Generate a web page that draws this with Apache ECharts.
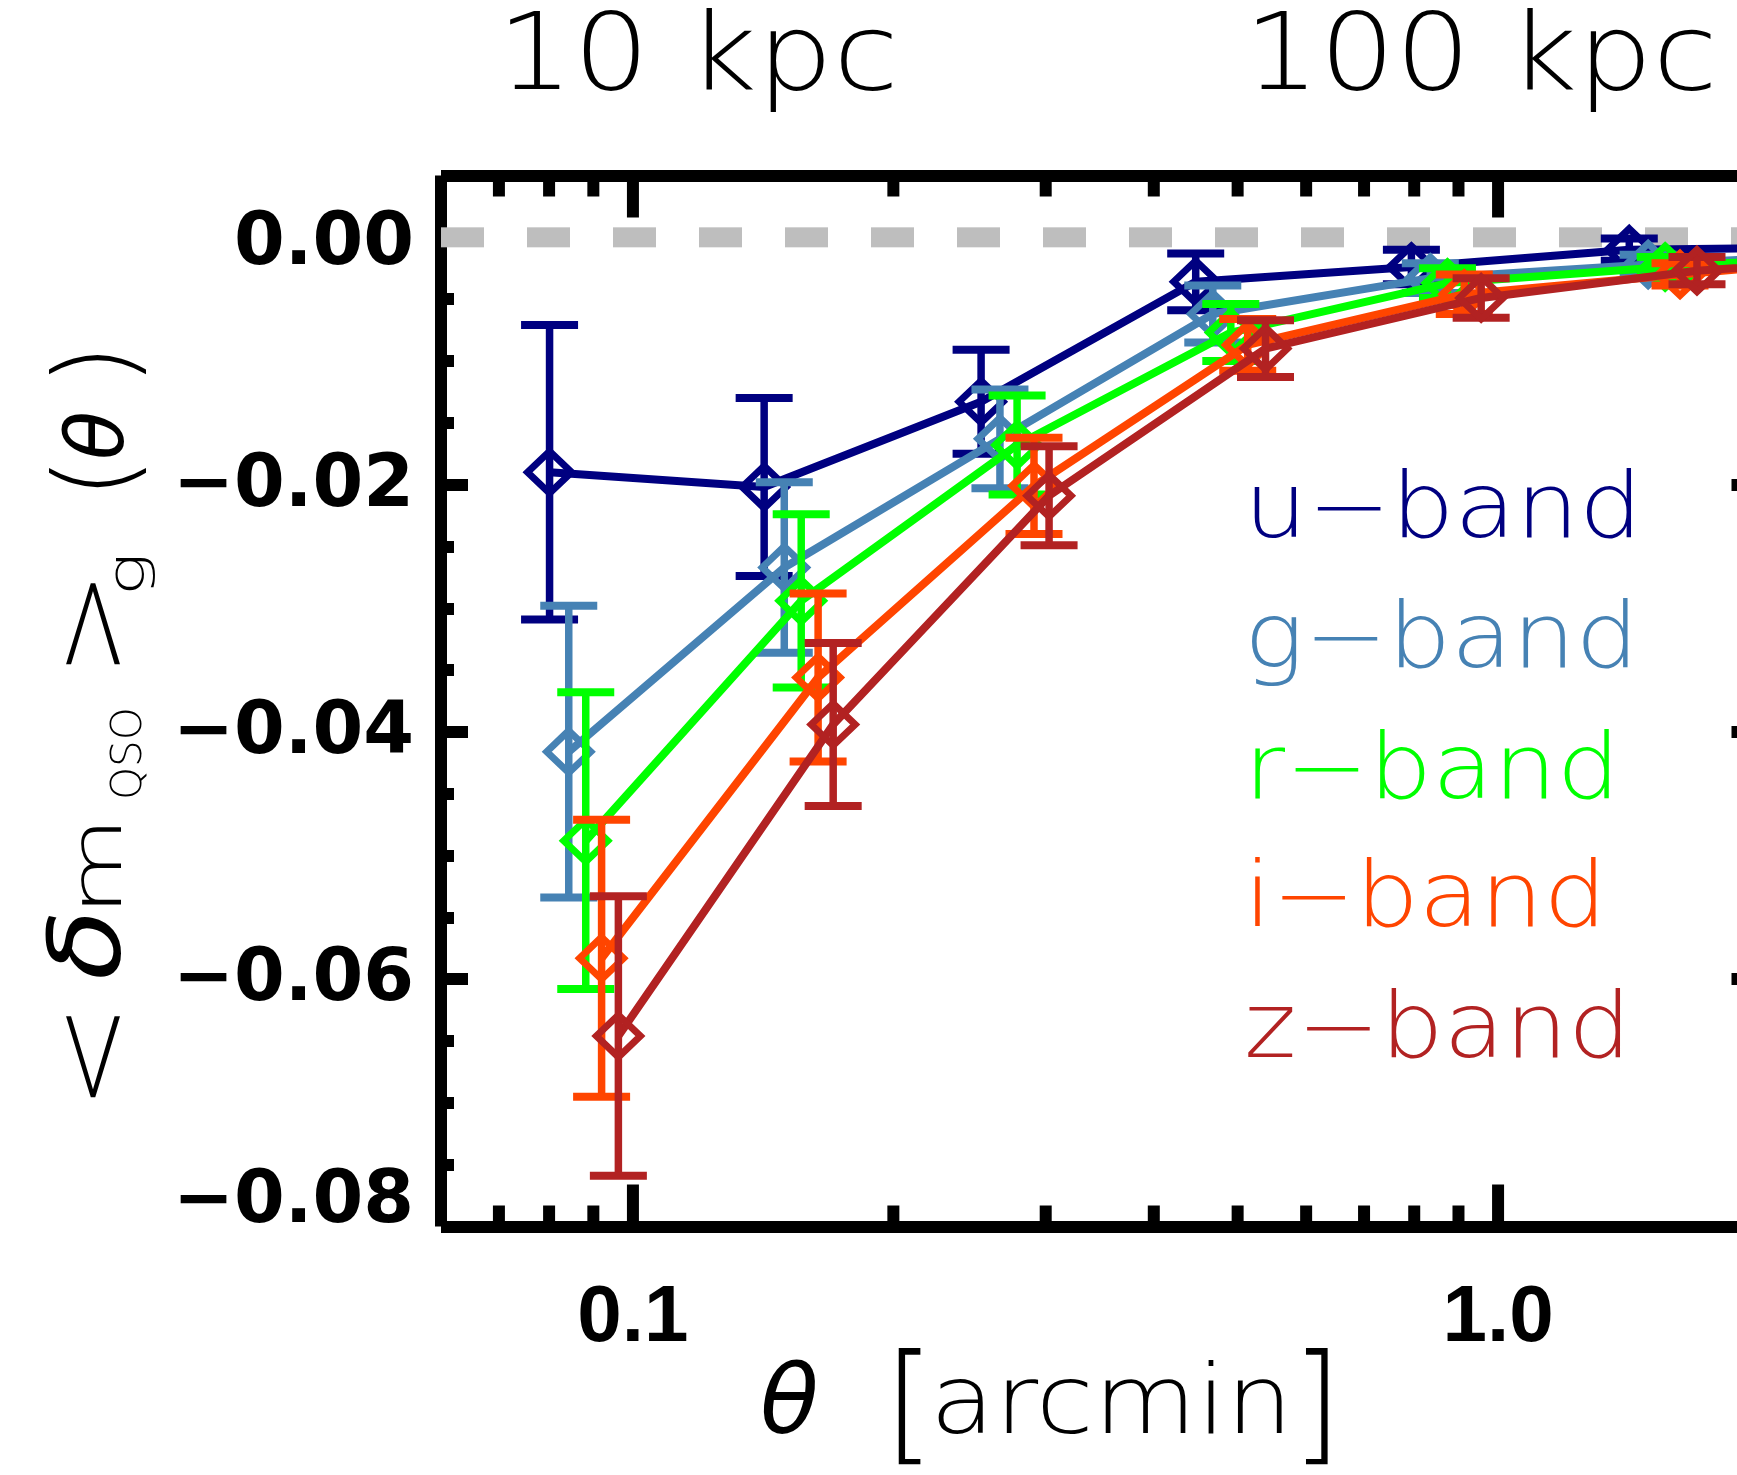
<!DOCTYPE html>
<html>
<head>
<meta charset="utf-8">
<script src="https://cdn.jsdelivr.net/npm/echarts@6/dist/echarts.min.js"></script>
<style>
  html, body { margin: 0; padding: 0; background: #ffffff; }
  #chart { width: 1737px; height: 1475px; }
</style>
</head>
<body>
<div id="chart"></div>
<script>
// Mean QSO magnitude shift vs. angular separation, one curve per SDSS band.
const bandLabels = ['u\u2212band', 'g\u2212band', 'r\u2212band', 'i\u2212band', 'z\u2212band'];
const bandColors = ['#000080', '#4682b4', '#00ff00', '#ff4500', '#b22222'];

// theta [arcmin] (bands slightly offset in theta for readability)
const thetaU = [0.0801, 0.1418, 0.2526, 0.4472, 0.794, 1.418, 2.51];
const thetaG = [0.0843, 0.1496, 0.2656, 0.468, 0.835, 1.491, 2.63];
const thetaR = [0.0882, 0.1565, 0.2780, 0.491, 0.874, 1.560, 2.75];
const thetaI = [0.0920, 0.1637, 0.2908, 0.5136, 0.914, 1.623, 2.88];
const thetaZ = [0.0962, 0.1704, 0.3027, 0.5385, 0.956, 1.698, 3.02];

// <delta m_QSO>_g
const dmU = [-0.0190, -0.0202, -0.0133, -0.0036, -0.0024, -0.0010, -0.0008];
const dmG = [-0.0416, -0.0267, -0.0163, -0.0062, -0.0033, -0.0022, -0.0013];
const dmR = [-0.0488, -0.0294, -0.0168, -0.0077, -0.0037, -0.0024, -0.0013];
const dmI = [-0.0583, -0.0356, -0.0201, -0.0087, -0.0046, -0.0030, -0.0015];
const dmZ = [-0.0646, -0.0394, -0.0209, -0.0090, -0.0049, -0.0027, -0.0015];

// 1-sigma errors
const errU = [0.0119, 0.0072, 0.0042, 0.0023, 0.0014, 0.0009, 0.0007];
const errG = [0.0118, 0.0069, 0.0040, 0.0023, 0.0012, 0.0008, 0.0007];
const errR = [0.0120, 0.0070, 0.0040, 0.0023, 0.0012, 0.0008, 0.0007];
const errI = [0.0112, 0.0068, 0.0039, 0.0021, 0.0016, 0.0009, 0.0008];
const errZ = [0.0113, 0.0066, 0.0040, 0.0023, 0.0016, 0.0011, 0.0008];

// axes
const xRange = [0.06, 2.0];
const yRange = [-0.08, 0.005];
const yStep = 0.02;
const xMajorTicks = [0.1, 1.0];
const xMajorLabels = ['0.1', '1.0'];
const xMinorTicks = [0.07, 0.08, 0.09, 0.2, 0.3, 0.4, 0.5, 0.6, 0.7, 0.8, 0.9];
const zeroLevel = 0;

const bands = [
  { theta: thetaU, dm: dmU, err: errU },
  { theta: thetaG, dm: dmG, err: errG },
  { theta: thetaR, dm: dmR, err: errR },
  { theta: thetaI, dm: dmI, err: errI },
  { theta: thetaZ, dm: dmZ, err: errZ }
];

const THIN = '"DejaVu Sans", "Noto Sans", sans-serif';
const BOLD_Y = '"DejaVu Sans", sans-serif';
const FRAME_W = 12;

const chart = echarts.init(document.getElementById('chart'), null, { renderer: 'canvas' });

function xLabel(v) {
  for (let k = 0; k < xMajorTicks.length; k++) {
    if (Math.abs(v - xMajorTicks[k]) < 1e-9 * xMajorTicks[k] + 1e-12) return xMajorLabels[k];
  }
  return '';
}
function yLabel(v) {
  if (v > 1e-9) return '';
  const s = (v < -1e-9 ? '\u2212' : '') + Math.abs(v).toFixed(2);
  if (Math.abs(v - yRange[0]) < 1e-9) return '{lo|' + s + '}';
  if (Math.abs(v) < 1e-9) return '{hi|' + s + '}';
  return '{n|' + s + '}';
}

const frameLine = { show: true, onZero: false, lineStyle: { color: '#000', width: FRAME_W, cap: 'butt' } };

function logAxis(position, showLabels) {
  return {
    type: 'log', logBase: 10, position: position,
    min: xRange[0], max: xRange[1],
    axisLine: frameLine,
    axisTick: { show: false },
    minorTick: { show: false },
    splitLine: { show: false },
    axisLabel: showLabels ? {
      show: true, formatter: xLabel, margin: 52,
      fontFamily: '"Liberation Sans", Arimo, sans-serif', fontWeight: 'bold',
      fontSize: 80, color: '#000'
    } : { show: false }
  };
}
const yFont = { fontFamily: BOLD_Y, fontWeight: 'bold', fontSize: 73, color: '#000' };
function valAxis(position, showLabels) {
  return {
    type: 'value', position: position,
    min: yRange[0], max: yRange[1], interval: yStep,
    axisLine: frameLine,
    axisTick: { show: true, inside: true, length: 27, lineStyle: { color: '#000', width: FRAME_W } },
    minorTick: { show: true, splitNumber: 4, length: 13, lineStyle: { color: '#000', width: FRAME_W } },
    splitLine: { show: false },
    minorSplitLine: { show: false },
    axisLabel: showLabels ? Object.assign({
      show: true, formatter: yLabel, margin: 27,
      rich: {
        n: Object.assign({ padding: [4, 0, 0, 0] }, yFont),
        hi: Object.assign({ padding: [16, 0, 0, 0] }, yFont),
        lo: Object.assign({ padding: [0, 0, 46, 0] }, yFont)
      }
    }, yFont) : { show: false }
  };
}

// x-axis ticks (major + minor) on bottom and top edges, placed through the log scale
function renderXTick(params, api) {
  const x = api.coord([api.value(0), yRange[0]])[0];
  const cs = params.coordSys;
  const len = api.value(2) ? 42 : 21;
  const st = { stroke: '#000', lineWidth: FRAME_W, lineCap: 'butt' };
  return {
    type: 'group',
    children: [
      { type: 'line', shape: { x1: x, y1: cs.y + cs.height, x2: x, y2: cs.y + cs.height - len }, style: st },
      { type: 'line', shape: { x1: x, y1: cs.y, x2: x, y2: cs.y + len }, style: st }
    ]
  };
}

// error bar with caps plus open diamond at each point
function makeErrRender(color) {
  return function (params, api) {
    const tx = api.value(0), v = api.value(1), e = api.value(2);
    const c = api.coord([tx, v]);
    const top = api.coord([tx, v + e]);
    const bot = api.coord([tx, v - e]);
    const hw = 28.5, rx = 22, ry = 21;
    const st = { stroke: color, lineWidth: 7.5, fill: null, lineCap: 'butt' };
    const capSt = { stroke: color, lineWidth: 8, fill: null, lineCap: 'butt' };
    return {
      type: 'group',
      children: [
        { type: 'line', shape: { x1: c[0], y1: top[1], x2: c[0], y2: bot[1] }, style: st },
        { type: 'line', shape: { x1: c[0] - hw, y1: top[1], x2: c[0] + hw, y2: top[1] }, style: capSt },
        { type: 'line', shape: { x1: c[0] - hw, y1: bot[1], x2: c[0] + hw, y2: bot[1] }, style: capSt },
        { type: 'polygon', shape: { points: [[c[0], c[1] - ry], [c[0] + rx, c[1]], [c[0], c[1] + ry], [c[0] - rx, c[1]]] },
          style: { stroke: color, lineWidth: 7, fill: null, lineJoin: 'miter' } }
      ]
    };
  };
}

const series = [];

// dashed reference line at zero
series.push({
  type: 'line', xAxisIndex: 0, yAxisIndex: 0,
  data: [[xRange[0], zeroLevel], [xRange[1], zeroLevel]],
  showSymbol: false, silent: true, z: 2,
  lineStyle: { color: '#bebebe', width: 20, type: [43, 43], cap: 'butt' }
});

// axis ticks
series.push({
  type: 'custom', xAxisIndex: 0, yAxisIndex: 0, silent: true, z: 3, clip: false,
  renderItem: renderXTick,
  data: xMajorTicks.map(v => [v, yRange[0], 1]).concat(xMinorTicks.map(v => [v, yRange[0], 0]))
});

bands.forEach((b, k) => {
  const pts = b.theta.map((t, i) => [t, b.dm[i]]);
  series.push({
    type: 'line', xAxisIndex: 0, yAxisIndex: 0, name: bandLabels[k],
    data: pts, showSymbol: false, clip: true, silent: true,
    z: 10 + 2 * k,
    lineStyle: { color: bandColors[k], width: 8 }
  });
  series.push({
    type: 'custom', xAxisIndex: 0, yAxisIndex: 0, clip: true, silent: true,
    z: 11 + 2 * k,
    renderItem: makeErrRender(bandColors[k]),
    data: b.theta.map((t, i) => [t, b.dm[i], b.err[i]])
  });
});

// text helper: x = left of the text, baseline = alphabetic baseline
const MID = 0.36;
function txt(str, x, baseline, fs, color, opts) {
  opts = opts || {};
  return {
    type: 'text', silent: true, x: x, y: baseline, scaleX: opts.sx || 1,
    style: {
      text: str, x: 0, y: -MID * fs, fontSize: fs,
      fontFamily: THIN, fontWeight: 200, fontStyle: opts.it ? 'italic' : 'normal',
      fill: color || '#000', align: opts.align || 'left', verticalAlign: 'middle'
    }
  };
}

const graphics = [];

// physical-scale labels along the top
graphics.push(txt('10 kpc', 497, 100, 107, '#000', { sx: 1.12 }));
graphics.push(txt('100 kpc', 1244, 100, 107, '#000', { sx: 1.11 }));

// x-axis title
graphics.push(txt('\u03b8', 760, 1443, 96, '#000', { it: true }));
graphics.push(txt('[', 884, 1460, 130));
graphics.push(txt('arcmin', 930, 1443, 96, '#000', { sx: 1.1 }));
graphics.push(txt(']', 1342, 1460, 130, '#000', { align: 'right' }));

// band labels
const legendBaselines = [546.5, 676, 807, 935.5, 1066];
bandLabels.forEach((s, k) => {
  graphics.push(txt(s, 1244, legendBaselines[k], 90, bandColors[k], { sx: 1.11 }));
});

// rotated y-axis title:  < δm_QSO >_g (θ)   (reads bottom to top)
const yTitleParts = [
  { s: '<', at: 1111, base: 138, fs: 108, sx: 1.2 },
  { s: '\u03b4', at: 980, base: 130, fs: 100, sx: 1.15, it: true },
  { s: 'm', at: 916, base: 128, fs: 72, sx: 1.42 },
  { s: 'QSO', at: 800, base: 145, fs: 42 },
  { s: '>', at: 678, base: 138, fs: 108, sx: 1.2 },
  { s: 'g', at: 596, base: 149, fs: 52, sx: 1.4 },
  { s: '(', at: 499, base: 143, fs: 108 },
  { s: '\u03b8', at: 460, base: 131, fs: 80, it: true },
  { s: ')', at: 386, base: 143, fs: 108 }
];
graphics.push({
  type: 'group', x: 0, y: 0, rotation: Math.PI / 2, silent: true,
  children: yTitleParts.map(p => txt(p.s, -p.at, p.base, p.fs, '#000', { it: p.it, sx: p.sx }))
});

chart.setOption({
  animation: false,
  backgroundColor: '#ffffff',
  grid: {
    left: 441, top: 175.5, right: 1737 - 1758.5, bottom: 1475 - 1226.5,
    containLabel: false, outerBoundsMode: 'none'
  },
  xAxis: [logAxis('bottom', true), logAxis('top', false)],
  yAxis: [valAxis('left', true), valAxis('right', false)],
  series: series,
  graphic: { elements: graphics }
});
</script>
</body>
</html>
